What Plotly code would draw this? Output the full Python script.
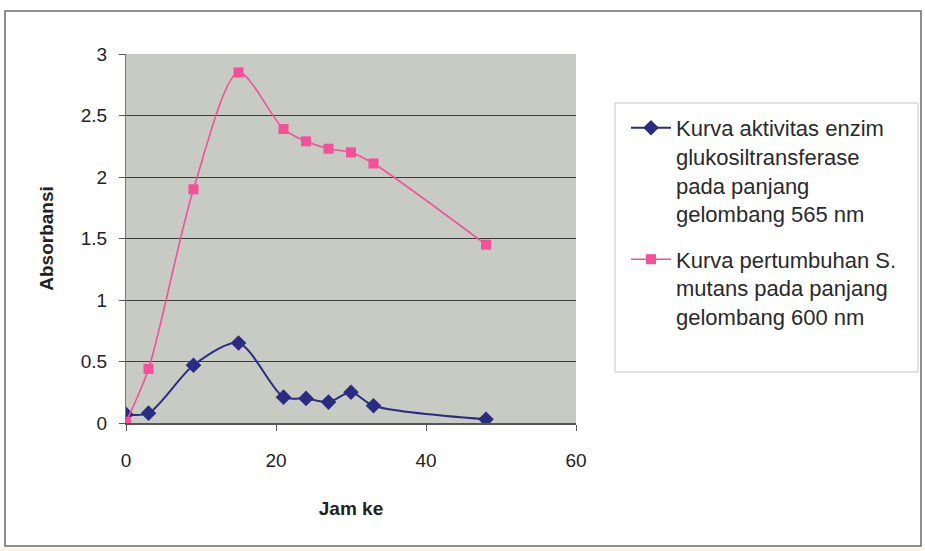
import plotly.graph_objects as go

# Sampling times (hours) and absorbance readings
jam = [0, 3, 9, 15, 21, 24, 27, 30, 33, 48]
enzim_565 = [0.07, 0.08, 0.47, 0.65, 0.21, 0.20, 0.17, 0.25, 0.14, 0.03]
pertumbuhan_600 = [0.01, 0.44, 1.90, 2.85, 2.39, 2.29, 2.23, 2.20, 2.11, 1.45]

x_ticks = [0, 20, 40, 60]
y_ticks = [0, 0.5, 1, 1.5, 2, 2.5, 3]
y_tick_text = ["0", "0.5", "1", "1.5", "2", "2.5", "3"]

nama_enzim = "Kurva aktivitas enzim<br>glukosiltransferase<br>pada panjang<br>gelombang 565 nm"
nama_tumbuh = "Kurva pertumbuhan S.<br>mutans pada panjang<br>gelombang 600 nm"

FONT = "Liberation Sans, Arial, sans-serif"

fig = go.Figure()
fig.add_trace(go.Scatter(
    x=jam, y=enzim_565, name=nama_enzim, mode="lines+markers",
    legendgroup="enzim",
    line=dict(color="#2a2c82", width=2, shape="spline", smoothing=0.8),
    marker=dict(symbol="diamond", size=12, color="#2a2c82"),
))
fig.add_trace(go.Scatter(
    x=jam, y=pertumbuhan_600, name=nama_tumbuh, mode="lines+markers",
    legendgroup="pertumbuhan",
    line=dict(color="#f2509a", width=1.6, shape="spline", smoothing=0.8),
    marker=dict(symbol="square", size=10, color="#f2509a"),
))

# plot area spans px 126..576 horizontally and 54..423 vertically
L, R, T, B = 126, 576, 54, 423
W, H = R - L, B - T


def px(xp):
    return (xp - L) / W


def py(yp):
    return (B - yp) / H


shapes = [
    # outer chart frame
    dict(type="rect", xref="paper", yref="paper",
         x0=px(5), x1=px(921), y0=py(546), y1=py(11),
         line=dict(color="#6a6a6a", width=1.5), layer="below"),
    # legend frame
    dict(type="rect", xref="paper", yref="paper",
         x0=px(615), x1=px(918), y0=py(372), y1=py(103),
         line=dict(color="#c4c4c4", width=1), layer="below"),
    # faint yellow strip along the bottom edge
    dict(type="rect", xref="paper", yref="paper",
         x0=px(0), x1=px(925), y0=py(551), y1=py(548),
         fillcolor="#faf6e2", line=dict(width=0), layer="below"),
]

fig.update_layout(
    width=925, height=551,
    margin=dict(l=L, r=925 - R, t=T, b=551 - B),
    paper_bgcolor="white",
    plot_bgcolor="#c7cbc3",
    font=dict(family=FONT, size=19, color="#222222"),
    showlegend=True,
    legend=dict(
        x=px(626), y=py(107), xanchor="left", yanchor="top",
        xref="paper", yref="paper",
        font=dict(family=FONT, size=22, color="#2a2a2a"),
        bgcolor="rgba(0,0,0,0)", borderwidth=0,
        valign="top", tracegroupgap=14, itemwidth=40,
    ),
    shapes=shapes,
    xaxis=dict(
        range=[0, 60], tickvals=x_ticks, ticktext=[str(v) for v in x_ticks],
        showgrid=False, zeroline=False,
        showline=True, linecolor="#555555", linewidth=1.5,
        ticks="outside", ticklen=6, tickcolor="#555555",
        tickfont=dict(size=19), ticklabelstandoff=13,
        title=dict(text="<b>Jam ke</b>", font=dict(size=19), standoff=32),
    ),
    yaxis=dict(
        range=[0, 3], tickvals=y_ticks, ticktext=y_tick_text,
        showgrid=True, gridcolor="#3c3c3c", gridwidth=1,
        zeroline=False,
        showline=True, linecolor="#777777", linewidth=1,
        ticks="outside", ticklen=6, tickcolor="#555555",
        tickfont=dict(size=19), ticklabelstandoff=8,
        title=dict(text="<b>Absorbansi</b>", font=dict(size=19), standoff=22),
    ),
)

fig.write_html("out.html")
